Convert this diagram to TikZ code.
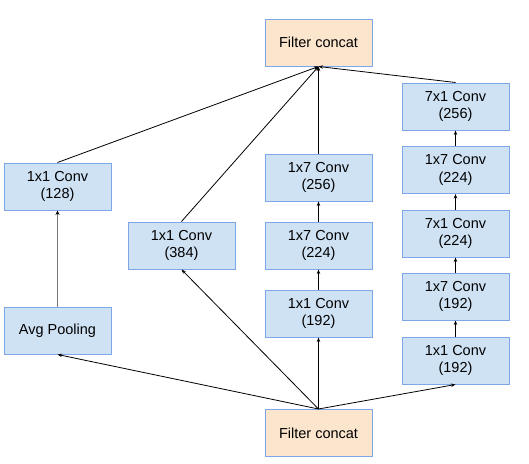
\documentclass[tikz,border=0pt]{standalone}
\usepackage{fontspec}
\setmainfont{Liberation Sans}
\usetikzlibrary{arrows.meta}
\definecolor{boxfill}{HTML}{CFE2F3}
\definecolor{boxline}{HTML}{7DA7E8}
\definecolor{catfill}{HTML}{FCE5CD}
\definecolor{grayline}{HTML}{777777}
\begin{document}
\begin{tikzpicture}[x=1pt,y=-1pt,
  convbox/.style={draw=boxline,line width=1pt,fill=boxfill,minimum width=107pt,minimum height=47pt,inner sep=0pt,align=center,font=\fontsize{14.5}{17.5}\selectfont},
  catbox/.style={convbox,fill=catfill},
  arr/.style={line width=0.8pt,-{Stealth[length=4.5pt,width=3.5pt]}},
  grayarr/.style={draw=grayline,line width=1.6pt,-{Stealth[length=4.5pt,width=4pt,color=black]}}]
\useasboundingbox (0,0) rectangle (529,463);
\node[catbox] (top) at (318.5,42.5) {Filter concat};
\node[catbox] (bot) at (318.5,433) {Filter concat};
\node[convbox] (c128) at (57.5,186.5) {1x1 Conv\\(128)};
\node[convbox] (avg) at (57.5,330.5) {Avg Pooling};
\node[convbox] (c384) at (181.5,245.5) {1x1 Conv\\(384)};
\node[convbox] (m256) at (318.5,177.5) {1x7 Conv\\(256)};
\node[convbox] (m224) at (318.5,245.5) {1x7 Conv\\(224)};
\node[convbox] (m192) at (318.5,313.5) {1x1 Conv\\(192)};
\node[convbox] (r1) at (455.5,106.5) {7x1 Conv\\(256)};
\node[convbox] (r2) at (455.5,170) {1x7 Conv\\(224)};
\node[convbox] (r3) at (455.5,233.5) {7x1 Conv\\(224)};
\node[convbox] (r4) at (455.5,296.5) {1x7 Conv\\(192)};
\node[convbox] (r5) at (455.5,360.5) {1x1 Conv\\(192)};
% into top concat
\draw[arr] (c128.north) -- (top.south);
\draw[arr] (c384.north) -- (top.south);
\draw[arr] (m256.north) -- (top.south);
\draw[arr] (r1.north) -- (top.south);
% from bottom concat
\draw[arr] (bot.north) -- (avg.south);
\draw[arr] (bot.north) -- (c384.south);
\draw[arr] (bot.north) -- (m192.south);
\draw[arr] (bot.north) -- (r5.south);
% columns
\draw[grayarr] (avg.north) -- (c128.south);
\draw[arr] (m192.north) -- (m224.south);
\draw[arr] (m224.north) -- (m256.south);
\draw[arr] (r5.north) -- (r4.south);
\draw[arr] (r4.north) -- (r3.south);
\draw[arr] (r3.north) -- (r2.south);
\draw[arr] (r2.north) -- (r1.south);
\end{tikzpicture}
\end{document}
